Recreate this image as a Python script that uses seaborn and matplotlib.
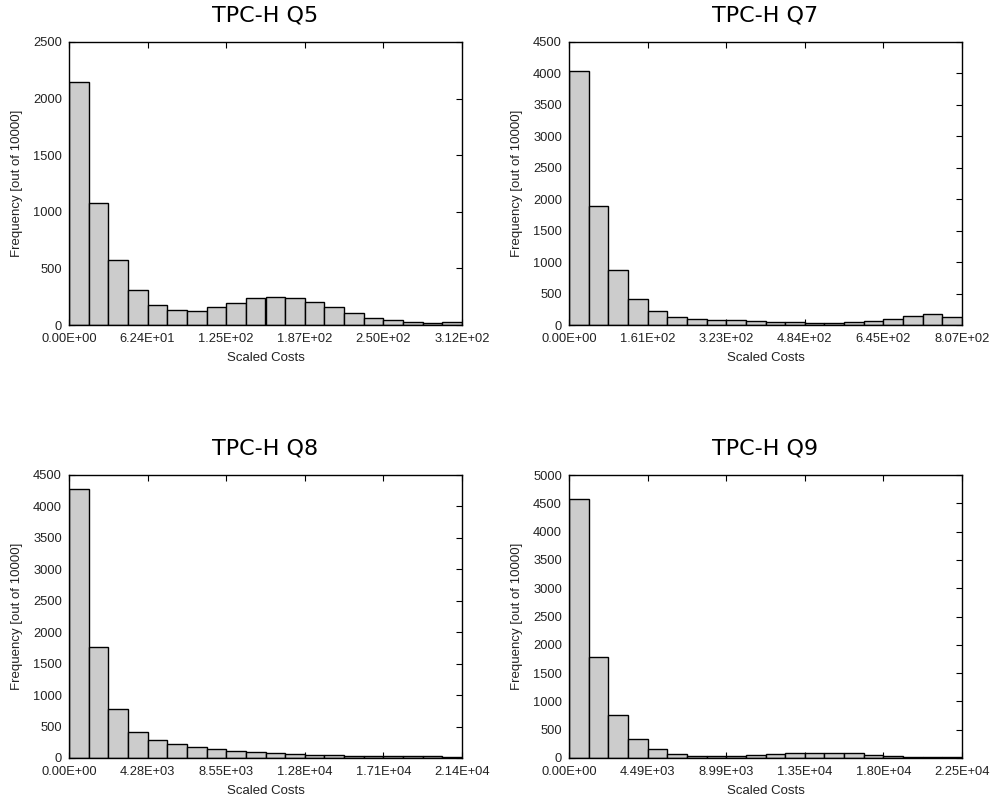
import numpy as np
import pandas as pd
import matplotlib
matplotlib.use("Agg")
import matplotlib.pyplot as plt
import seaborn as sns

# ─── Данные (частоты по 20 бинам, из 10000) ─────────────────────────────────────
queries = ["TPC-H Q5", "TPC-H Q7", "TPC-H Q8", "TPC-H Q9"]
max_cost = [312.0, 806.6, 21380.0, 22470.0]
y_max = [2500, 4500, 4500, 5000]

q5_counts = [2150, 1080, 570, 310, 180, 130, 125, 155, 195, 235,
             250, 235, 200, 155, 105, 65, 40, 25, 20, 30]
q7_counts = [4040, 1890, 880, 420, 215, 130, 100, 85, 75, 65,
             55, 45, 30, 30, 50, 70, 100, 145, 180, 135]
q8_counts = [4270, 1770, 780, 420, 280, 215, 175, 145, 115, 95,
             80, 65, 50, 40, 30, 30, 25, 25, 25, 20]
q9_counts = [4580, 1790, 760, 340, 160, 70, 35, 30, 30, 45,
             65, 85, 90, 90, 80, 55, 35, 25, 15, 10]
all_counts = [q5_counts, q7_counts, q8_counts, q9_counts]

sns.set_theme(style="ticks")
plt.rcParams["font.family"] = ["Liberation Sans", "DejaVu Sans"]

fig = plt.figure(figsize=(9.92, 8.01), dpi=100)
positions = [
    (69, 42), (569, 42),
    (69, 475), (569, 475),
]
W, H = 393, 283

for (px, py), title, cmax, ymax, counts in zip(positions, queries, max_cost, y_max, all_counts):
    ax = fig.add_axes([px / 992, 1 - (py + H) / 801, W / 992, H / 801])
    edges = np.linspace(0, cmax, len(counts) + 1)
    df = pd.DataFrame({"cost": (edges[:-1] + edges[1:]) / 2, "freq": counts})
    sns.histplot(data=df, x="cost", weights="freq", bins=list(edges), ax=ax,
                 color="#cccccc", edgecolor="black", linewidth=1.0, alpha=1.0)
    ax.set_xlim(0, cmax)
    ax.set_ylim(0, ymax)
    xt = np.linspace(0, cmax, 6)
    ax.set_xticks(xt)
    ax.set_xticklabels([f"{v:.2E}" for v in xt])
    ax.set_yticks(np.arange(0, ymax + 1, 500))
    ax.tick_params(direction="in", top=True, right=True, labelsize=9.3,
                   length=4, width=0.8, colors="black", labelcolor="#222222")
    ax.tick_params(axis="x", pad=6)
    ax.tick_params(axis="y", pad=5)
    for s in ax.spines.values():
        s.set_linewidth(1.0)
        s.set_color("black")
    ax.set_xlabel("Scaled Costs", fontsize=9.5, labelpad=5, color="#222222")
    ax.set_ylabel("Frequency [out of 10000]", fontsize=9.5, labelpad=7, color="#222222")
    ax.set_title(title, fontsize=16, family=["DejaVu Sans"], pad=15, color="black")

fig.savefig("out.png", dpi=100)
plt.close(fig)
